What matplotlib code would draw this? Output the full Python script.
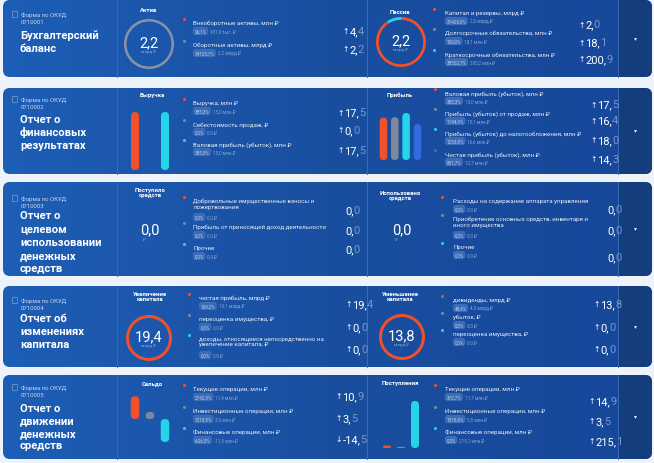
import matplotlib
matplotlib.use('Agg')
import matplotlib.pyplot as plt
from matplotlib.patches import FancyBboxPatch, Rectangle
from matplotlib.colors import LinearSegmentedColormap
import numpy as np

# ---------------- DATA ----------------
form_codes = ["0710001", "0710002", "0710003", "0710004", "0710005"]
card_titles = [["Бухгалтерский", "баланс"],
               ["Отчет о", "финансовых", "результатах"],
               ["Отчет о", "целевом", "использовании", "денежных", "средств"],
               ["Отчет об", "изменениях", "капитала"],
               ["Отчет о", "движении", "денежных", "средств"]]

# section 1
s1l_header = "Актив"
s1l_labels = ["Внеоборотные активы, млн ₽", "Оборотные активы, млрд ₽"]
s1l_pct = ["26,1%", "34105,7%"]
s1l_amt = ["901,0 тыс. ₽", "2,2 млрд ₽"]
s1l_chg = ["4,4", "2,2"]
s1l_dir = ["up", "up"]
s1l_vals = [0.0009, 2.2]
s1l_total = "2,2"
s1r_header = "Пассив"
s1r_labels = ["Капитал и резервы, млрд ₽", "Долгосрочные обязательства, млн ₽",
              "Краткосрочные обязательства, млн ₽"]
s1r_pct = ["31426,0%", "100,0%", "38552,7%"]
s1r_amt = ["2,0 млрд ₽", "18,1 млн ₽", "200,2 млн ₽"]
s1r_chg = ["2,0", "18,1", "200,9"]
s1r_dir = ["up", "up", "up"]
s1r_vals = [2.0, 0.0181, 0.2002]
s1r_total = "2,2"

# section 2
s2l_header = "Выручка"
s2l_labels = ["Выручка, млн ₽", "Себестоимость продаж, ₽", "Валовая прибыль (убыток), млн ₽"]
s2l_pct = ["385,3%", "0,0%", "385,3%"]
s2l_amt = ["15,0 млн ₽", "0,0 ₽", "15,0 млн ₽"]
s2l_chg = ["17,5", "0,0", "17,5"]
s2l_dir = ["up", "up", "up"]
s2l_vals = [15.0, 0.0, 15.0]
s2r_header = "Прибыль"
s2r_labels = ["Валовая прибыль (убыток), млн ₽", "Прибыль (убыток) от продаж, млн ₽",
              "Прибыль (убыток) до налогообложения, млн ₽", "Чистая прибыль (убыток), млн ₽"]
s2r_pct = ["385,3%", "1144,3%", "1233,8%", "801,7%"]
s2r_amt = ["15,0 млн ₽", "15,1 млн ₽", "16,6 млн ₽", "12,7 млн ₽"]
s2r_chg = ["17,5", "16,4", "18,0", "14,3"]
s2r_dir = ["up", "up", "up", "up"]
s2r_vals = [15.0, 15.1, 16.6, 12.7]

# section 3
s3l_header = "Поступило\nсредств"
s3l_labels = ["Добровольные имущественные взносы и\nпожертвования",
              "Прибыль от приносящей доход деятельности", "Прочие"]
s3l_pct = ["0,0%", "0,0%", "0,0%"]
s3l_amt = ["0,0 ₽", "0,0 ₽", "0,0 ₽"]
s3l_chg = ["0,0", "0,0", "0,0"]
s3l_dir = ["", "", ""]
s3l_total = "0,0"
s3r_header = "Использовано\nсредств"
s3r_labels = ["Расходы на содержание аппарата управления",
              "Приобретение основных средств, инвентаря и\nиного имущества", "Прочие"]
s3r_pct = ["0,0%", "0,0%", "0,0%"]
s3r_amt = ["0,0 ₽", "0,0 ₽", "0,0 ₽"]
s3r_chg = ["0,0", "0,0", "0,0"]
s3r_dir = ["", "", ""]
s3r_total = "0,0"

# section 4
s4l_header = "Увеличение\nкапитала"
s4l_labels = ["чистая прибыль, млрд ₽", "переоценка имущества, ₽",
              "доходы, относящиеся непосредственно на\nувеличение капитала, ₽"]
s4l_pct = ["109,2%", "0,0%", "0,0%"]
s4l_amt = ["10,1 млрд ₽", "0,0 ₽", "0,0 ₽"]
s4l_chg = ["19,4", "0,0", "0,0"]
s4l_dir = ["up", "up", "up"]
s4l_vals = [10.1, 0.0, 0.0]
s4l_total = "19,4"
s4r_header = "Уменьшение\nкапитала"
s4r_labels = ["дивиденды, млрд ₽", "убыток, ₽", "переоценка имущества, ₽"]
s4r_pct = ["48,4%", "0,0%", "0,0%"]
s4r_amt = ["4,5 млрд ₽", "0,0 ₽", "0,0 ₽"]
s4r_chg = ["13,8", "0,0", "0,0"]
s4r_dir = ["up", "up", "up"]
s4r_vals = [4.5, 0.0, 0.0]
s4r_total = "13,8"

# section 5
s5l_header = "Сальдо"
s5l_labels = ["Текущие операции, млн ₽", "Инвестиционные операции, млн ₽", "Финансовые операции, млн ₽"]
s5l_pct = ["2742,3%", "1318,8%", "-626,3%"]
s5l_amt = ["11,4 млн ₽", "3,5 млн ₽", "-11,5 млн ₽"]
s5l_chg = ["10,9", "3,5", "-14,5"]
s5l_dir = ["up", "up", "down"]
s5l_vals = [11.4, 3.5, -11.5]
s5r_header = "Поступления"
s5r_labels = ["Текущие операции, млн ₽", "Инвестиционные операции, млн ₽", "Финансовые операции, млн ₽"]
s5r_pct = ["372,7%", "1518,8%", "0,0%"]
s5r_amt = ["11,7 млн ₽", "5,5 млн ₽", "215,1 млн ₽"]
s5r_chg = ["14,9", "3,5", "215,1"]
s5r_dir = ["up", "up", "up"]
s5r_vals = [11.7, 5.5, 215.1]

# ---------------- STYLE ----------------
ORANGE, GREY, CYAN, BLUE = '#f0502a', '#7e889b', '#26d4e8', '#2e6ce0'
C3 = [ORANGE, GREY, CYAN]
C4 = [ORANGE, GREY, CYAN, BLUE]
WHITE = '#ffffff'
DIM = '#8aa5d3'
FONT = ['Roboto', 'DejaVu Sans']
NUMFONT = ['Roboto', 'DejaVu Sans']

W, H = 654, 464
fig = plt.figure(figsize=(W / 100, H / 100), dpi=100)
fig.patch.set_facecolor('#eef3fa')
ax0 = fig.add_axes([0, 0, 1, 1])
ax0.set_xlim(0, W)
ax0.set_ylim(H, 0)
ax0.axis('off')
renderer = fig.canvas.get_renderer()

panels = [(1, 78), (89, 175), (183, 277), (287, 368), (376, 460)]
form_y = [15, 100, 199, 301, 388]
title_y0 = [36, 120, 216, 319, 409]
title_step = [13.5, 12.8, 13.3, 13.2, 12.5]

cmap = LinearSegmentedColormap.from_list('g', ['#1d5eb6', '#1a4f a0'.replace(' ', ''), '#17479a'])


def draw_panel(y0, y1):
    x0, x1 = 3, 652
    patch = FancyBboxPatch((x0, y0), x1 - x0, y1 - y0,
                           boxstyle='round,pad=0,rounding_size=7', fc='none', ec='none')
    ax0.add_patch(patch)
    grad = np.linspace(0, 1, 256).reshape(1, -1)
    im = ax0.imshow(grad, extent=(x0, x1, y1, y0), cmap=cmap, aspect='auto', zorder=0)
    im.set_clip_path(patch)
    strip = Rectangle((618, y0), x1 - 618, y1 - y0, fc='#143d7e', ec='none', zorder=0.5)
    ax0.add_patch(strip)
    strip.set_clip_path(patch)
    for xv in (117, 367, 618):
        ax0.plot([xv, xv], [y0, y1], color='#3a6ab3', lw=0.7, zorder=1)
    ax0.plot([635], [(y0 + y1) / 2], marker='v', ms=2.0, color=WHITE, mec='none', zorder=3)


def card_text(i):
    fy = form_y[i]
    ax0.add_patch(Rectangle((12, fy - 3), 5, 6, fill=False, ec='#7f9bcc', lw=0.5, zorder=2))
    ax0.text(21, fy, 'Форма по ОКУД', fontsize=4.3, color='#c9d6ee', va='center', family=FONT)
    ax0.text(21, fy + 7.5, form_codes[i], fontsize=4.3, color='#c9d6ee', va='center', family=FONT)
    for k, line in enumerate(card_titles[i]):
        ax0.text(20, title_y0[i] + k * title_step[i], line, fontsize=8.1, weight='bold',
                 color=WHITE, va='center', family=FONT)


def header(x, y, s):
    ax0.text(x, y, s, fontsize=4.3, weight='bold', color=WHITE, ha='center', va='center',
             linespacing=1.0, family=FONT)


def legend(bx, tx, ys, labels, pcts, amts, colors):
    for y, lab, p, a, c in zip(ys, labels, pcts, amts, colors):
        ax0.plot([bx], [y - 1.5], marker='o', ms=2.2, color=c, mec='none', zorder=3)
        nlines = lab.count('\n') + 1
        ax0.text(tx, y, lab, fontsize=4.4, color='#e6edf9', va='top', ha='left',
                 linespacing=1.1, family=FONT)
        by = y + 3 + 8 * nlines
        t = ax0.text(tx + 1.5, by, p, fontsize=3.3, color='#b9cbec', va='center', ha='left',
                     family=FONT,
                     bbox=dict(boxstyle='round,pad=0.35,rounding_size=0.6', fc='#3c6cb6', ec='none'))
        bb = t.get_window_extent(renderer)
        ax0.text(bb.x1 + 3.5, by, a, fontsize=3.3, color=DIM, va='center', ha='left', family=FONT)


def changes(x, ys, vals, dirs, size=8.0):
    for y, v, d in zip(ys, vals, dirs):
        xx = x
        if d:
            arrow = '↑' if d == 'up' else '↓'
            ta = ax0.text(xx, y, arrow, fontsize=5.5, color=WHITE, va='center', ha='left',
                          family=['DejaVu Sans'])
            xx = ta.get_window_extent(renderer).x1 + 1
        t = ax0.text(xx, y, v[:-1], fontsize=size, color=WHITE, va='center', ha='left', family=NUMFONT)
        bb = t.get_window_extent(renderer)
        ax0.text(bb.x1, y, v[-1], fontsize=size, color='#7797cc', va='center', ha='left', family=NUMFONT)


def donut(cx, cy, r, vals, colors, ring_px, total, unit='млрд ₽'):
    m = r + 2
    axd = fig.add_axes([(cx - m) / W, 1 - (cy + m) / H, 2 * m / W, 2 * m / H])
    axd.pie(vals, colors=colors, startangle=90, counterclock=False, radius=1,
            wedgeprops=dict(width=ring_px / r, edgecolor='none', linewidth=0))
    axd.set_xlim(-m / r, m / r)
    axd.set_ylim(-m / r, m / r)
    axd.set_aspect('auto')
    axd.axis('off')
    ax0.text(cx, cy - 2, total, fontsize=10.5, color=WHITE, ha='center', va='center', family=NUMFONT)
    ax0.text(cx, cy + 7, unit, fontsize=3.2, color=DIM, ha='center', va='center', family=FONT)


def pill_bars(left, top, width, height, vals, colors, ylim, bar_px):
    axb = fig.add_axes([left / W, 1 - (top + height) / H, width / W, height / H])
    n = len(vals)
    axb.set_xlim(-0.5, n - 0.5)
    axb.set_ylim(*ylim)
    axb.axis('off')
    xu = n / width
    yu = (ylim[1] - ylim[0]) / height
    aspect = yu / xu
    bars = axb.bar(range(n), vals, width=bar_px * xu, color=colors)
    for b in bars:
        x, y, w, h = b.get_x(), b.get_y(), b.get_width(), b.get_height()
        if h < 0:
            y, h = y + h, -h
        b.set_visible(False)
        if h == 0:
            continue
        r = min(w / 2, h / aspect / 2)
        p = FancyBboxPatch((x, y), w, h, boxstyle=f'round,pad=0,rounding_size={r}',
                           mutation_aspect=aspect, fc=b.get_facecolor(), ec='none')
        axb.add_patch(p)


for i, (y0, y1) in enumerate(panels):
    draw_panel(y0, y1)
    card_text(i)

# ---- section 1
header(149, 11, s1l_header)
donut(149, 45, 25, s1l_vals, [ORANGE, '#8a93a6'], 2.5, s1l_total)
legend(184, 193, [21, 43], s1l_labels, s1l_pct, s1l_amt, [ORANGE, GREY])
changes(342, [32, 50], s1l_chg, s1l_dir)
header(400, 12, s1r_header)
donut(401, 43, 25, s1r_vals, C3, 2.8, s1r_total)
legend(434, 445, [11, 31, 52], s1r_labels, s1r_pct, s1r_amt, C3)
changes(578, [25, 43, 60], s1r_chg, s1r_dir)

# ---- section 2
header(152, 95, s2l_header)
pill_bars(127.5, 113, 45, 58, s2l_vals, C3, (0, 15.0), 8)
legend(184, 193, [101, 122, 142], s2l_labels, s2l_pct, s2l_amt, C3)
changes(337, [113, 131, 151], s2l_chg, s2l_dir)
header(400, 95, s2r_header)
pill_bars(377.8, 114, 45.3, 47, s2r_vals, C4, (0, 16.6), 7.5)
legend(435, 445, [91, 111, 131, 152], s2r_labels, s2r_pct, s2r_amt, C4)
changes(590, [105, 121, 141, 160], s2r_chg, s2r_dir)

# ---- section 3
header(150, 193, s3l_header)
ax0.text(150, 230, s3l_total, fontsize=10.5, color=WHITE, ha='center', va='center', family=NUMFONT)
ax0.text(144, 240, '₽', fontsize=3.2, color=DIM, ha='center', va='center', family=FONT)
legend(184, 193, [199, 225, 246], s3l_labels, s3l_pct, s3l_amt, C3)
changes(345, [211, 231, 250], s3l_chg, s3l_dir)
header(400, 196, s3r_header)
ax0.text(402, 230, s3r_total, fontsize=10.5, color=WHITE, ha='center', va='center', family=NUMFONT)
ax0.text(396, 240, '₽', fontsize=3.2, color=DIM, ha='center', va='center', family=FONT)
legend(442, 453, [199, 217, 245], s3r_labels, s3r_pct, s3r_amt, C3)
changes(607, [210, 231, 258], s3r_chg, s3r_dir)

# ---- section 4
header(150, 297, s4l_header)
donut(149, 339, 23, s4l_vals, C3, 3.0, s4l_total)
legend(189, 199, [296, 317, 337], s4l_labels, s4l_pct, s4l_amt, C3)
changes(345, [305, 328, 350], s4l_chg, s4l_dir)
header(400, 297, s4r_header)
donut(402, 338, 23, s4r_vals, C3, 3.0, s4r_total)
legend(442, 453, [298, 315, 332], s4r_labels, s4r_pct, s4r_amt, C3)
changes(593, [305, 328, 350], s4r_chg, s4r_dir)

# ---- section 5
header(152, 384, s5l_header)
pill_bars(127.5, 396, 45, 49, s5l_vals, C3, (-12.5, 12.0), 8.5)
legend(184, 193, [387, 409, 430], s5l_labels, s5l_pct, s5l_amt, C3)
changes(335, [397, 419, 440], s5l_chg, s5l_dir)
header(400, 384, s5r_header)
pill_bars(380, 402, 42, 47, s5r_vals, C3, (0, 215.1), 8)
legend(435, 445, [387, 409, 430], s5r_labels, s5r_pct, s5r_amt, C3)
changes(588, [402, 422, 442], s5r_chg, s5r_dir)

ax0.set_xlim(0, W)
ax0.set_ylim(H, 0)
fig.savefig('out.png', dpi=100, facecolor=fig.get_facecolor())
